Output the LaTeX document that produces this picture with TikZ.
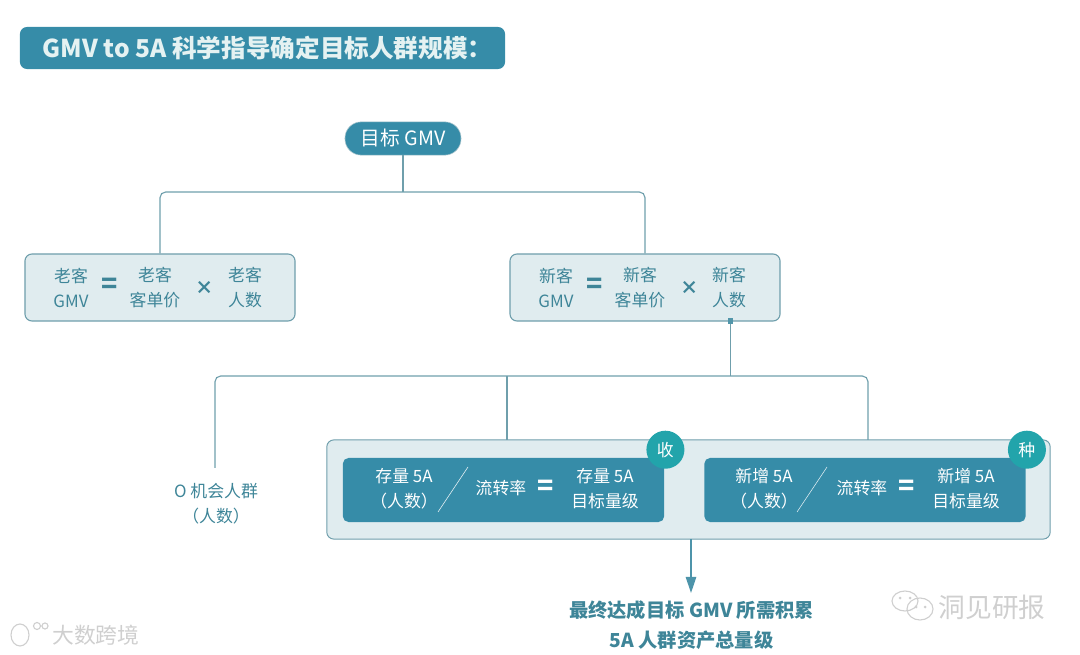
\documentclass[tikz,border=0pt]{standalone}
\usepackage{fontspec}
\setmainfont{Noto Sans CJK SC}
\usepackage{xcolor}
\usetikzlibrary{arrows.meta,positioning}
\definecolor{tealdark}{HTML}{368CA8}
\definecolor{tealtext}{HTML}{3E8598}
\definecolor{teallight}{HTML}{E0ECEF}
\definecolor{tealedge}{HTML}{6F9FAC}
\definecolor{tealround}{HTML}{22A4AB}
\definecolor{markgray}{HTML}{CFCFCF}
\begin{document}
\begin{tikzpicture}[
  x=0.025cm, y=-0.025cm,
  link/.style={draw=tealedge, line width=0.8pt, rounded corners=4pt},
  formula/.style={draw=tealedge, fill=teallight, line width=0.8pt, rounded corners=5pt, minimum width=6.75cm, minimum height=1.675cm},
  rate/.style={fill=tealdark, rounded corners=4pt, minimum width=8.03cm, minimum height=1.6cm},
  term/.style={font=\fontsize{12}{17.8}\selectfont, align=center, text=#1, inner sep=0pt},
  op/.style={font=\fontsize{19}{19}\selectfont\bfseries, text=#1, inner sep=0pt},
  cross/.style={font=\fontsize{13}{13}\selectfont\bfseries, text=#1, inner sep=0pt},
  badge/.style={circle, fill=tealround, text=white, font=\fontsize{12}{12}\selectfont, minimum size=0.95cm, inner sep=0pt},
  wmark/.style={font=\fontsize{#1}{#1}\selectfont, text=markgray, inner sep=0pt}
]
\useasboundingbox (0,0) rectangle (1080,655);
% heading
\node[fill=tealdark, rounded corners=5pt, minimum width=12.125cm, minimum height=1.05cm, text=white!90!teal, font=\fontsize{17.5}{17.5}\selectfont\bfseries] (heading) at (262.5,48) {\hspace*{0.25cm}GMV to 5A 科学指导确定目标人群规模：};
% tree
\node[fill=tealdark, draw=tealedge!60, rounded corners=11.5pt, minimum width=2.9cm, minimum height=0.83cm, inner sep=0pt, text=white, font=\fontsize{14}{14}\selectfont] (goal) at (403,138.5) {目标 GMV};
\node[formula] (oldbox) at (160,287.5) {};
\node[formula] (newbox) at (645,287.5) {};
\coordinate (goalbus) at (403,192);
\draw[link] (oldbox.north) |- (goalbus) -| (newbox.north);
\draw[link] (goal.south) -- (goalbus);
\foreach \nm/\who/\a/\b/\c/\d/\e in {
  old/老客/71/110/155/205/245,
  new/新客/556/595/640/690/729} {
  \node[term=tealtext] (\nm sum) at (\a,288) {\who\\GMV};
  \node[op=tealtext] (\nm eq) at (\b,286) {=};
  \node[term=tealtext] (\nm price) at (\c,288) {\who\\客单价};
  \node[cross=tealtext] (\nm times) at (\d,288) {×};
  \node[term=tealtext] (\nm count) at (\e,288) {\who\\人数};
}
% split below new customers
\node[term=tealtext] (zero) at (216,504) {O 机会人群\\（人数）};
\node[draw=tealedge, fill=teallight, line width=0.7pt, rounded corners=5pt, minimum width=18.08cm, minimum height=2.48cm] (panel) at (688.5,489.5) {};
\node[fill=tealedge!50!tealdark, minimum size=0.14cm, inner sep=0pt] (tap) at (730.5,321) {};
\coordinate (splitbus) at (730.5,376);
\coordinate (zerotop) at (215,468);
\coordinate (stocktop) at (507,440);
\coordinate (freshtop) at (868,440);
\draw[link] (zerotop) |- (splitbus) -| (freshtop);
\draw[link, rounded corners=0pt] (stocktop) -- (stocktop |- splitbus);
\draw[link] (tap.south) -- (splitbus);
\node[rate] (stock) at (503.5,490) {};
\node[rate] (fresh) at (865,490) {};
\foreach \nm/\who/\tag/\a/\s/\b/\c/\d in {
  stock/存量/收/404/454/501/546/605,
  fresh/新增/种/764/813/862/907/966} {
  \node[term=white] (\nm num) at (\a,489) {\who{} 5A\\（人数）};
  \node[term=white] (\nm rate) at (\b,488) {流转率};
  \node[op=white] (\nm eq) at (\c,488) {=};
  \node[term=white] (\nm aim) at (\d,489) {\who{} 5A\\目标量级};
  \coordinate (\nm up) at (\s+14,467);
  \coordinate (\nm lo) at (\s-16,512);
  \draw[white!85!tealdark, line width=0.4pt] (\nm up) -- (\nm lo);
  \node[badge, xshift=0.025cm, yshift=0.2cm] (\nm tag) at (\nm.north east) {\tag};
}
% result
\node[term=tealtext, font=\fontsize{13.7}{21.5}\selectfont\bfseries] (result) at (691.5,625) {最终达成目标 GMV 所需积累\\5A 人群资产总量级};
\coordinate (panelout) at (691,539);
\coordinate (resulttop) at (691,593);
\draw[draw=tealedge!40!tealdark, line width=0.8pt, -{Triangle[length=4mm, width=2.6mm]}] (panelout) -- (resulttop);
% marks
\node[wmark=15.5] (markleft) at (96,635) {大数跨境};
\node[wmark=19] (markright) at (992,607) {洞见研报};
\draw[markgray, line width=0.8pt] (20,635) ellipse (9 and 11) (37,626) circle (3.5) (45,626) circle (3);
\draw[markgray, line width=0.8pt] (905,601) ellipse (13 and 10) (920,609) ellipse (13 and 11);
\fill[markgray] (900,598) circle (1.5) (910,598) circle (1.5) (916,607) circle (1.5) (925,607) circle (1.5);
\end{tikzpicture}
\end{document}
